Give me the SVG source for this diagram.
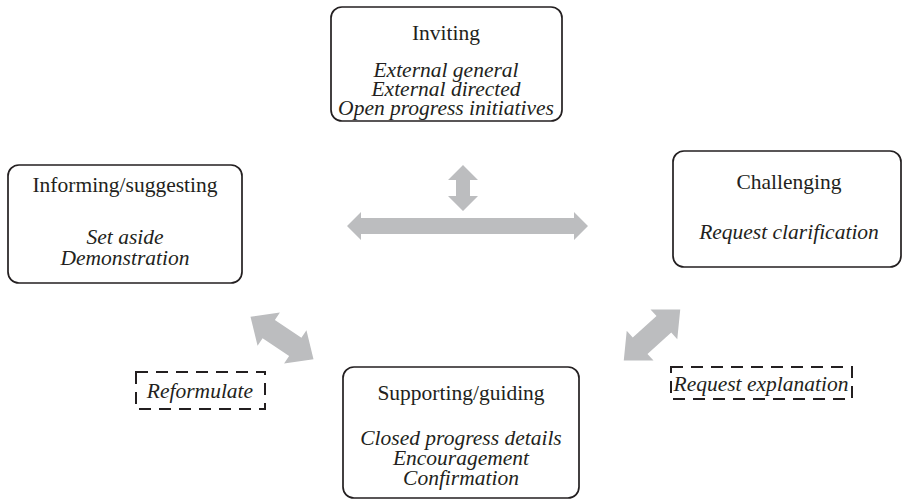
<svg xmlns="http://www.w3.org/2000/svg" width="904" height="499" viewBox="0 0 904 499">
<style>
.box{fill:#fff;stroke:#231f20;stroke-width:1.7}
.dash{fill:none;stroke:#231f20;stroke-width:2;stroke-dasharray:12 8}
.t{font-family:"Liberation Serif","Times New Roman",serif;font-size:21.5px;fill:#231f20;text-anchor:middle}
.i{font-style:italic}
.arr{fill:#bcbdbf}
</style>
<defs>
<polygon id="dbl" points="-38,0 -16,-20 -16,-11 16,-11 16,-20 38,0 16,20 16,11 -16,11 -16,20"/>
</defs>
<g id="connectors" class="arr">
<polygon points="463,165 478,180 470,180 470,196 478,196 463,211 448,196 456,196 456,180 448,180"/>
<polygon points="347,226 361,212 361,218 574,218 574,212 588,226 574,240 574,234 361,234 361,240"/>
<use href="#dbl" transform="translate(282,338) rotate(34)"/>
<use href="#dbl" transform="translate(652,335) rotate(-42)"/>
</g>
<g id="inviting">
<rect class="box" x="331" y="7" width="231" height="114" rx="11"/>
<text class="t" x="446" y="40">Inviting</text>
<text class="t i" x="446" y="77">External general</text>
<text class="t i" x="446" y="96">External directed</text>
<text class="t i" x="446" y="115">Open progress initiatives</text>
</g>
<g id="informing">
<rect class="box" x="8" y="165" width="234" height="118" rx="11"/>
<text class="t" x="125" y="192">Informing/suggesting</text>
<text class="t i" x="125" y="244">Set aside</text>
<text class="t i" x="125" y="265">Demonstration</text>
</g>
<g id="challenging">
<rect class="box" x="673" y="151" width="228" height="116" rx="11"/>
<text class="t" x="789" y="189">Challenging</text>
<text class="t i" x="789" y="239">Request clarification</text>
</g>
<g id="supporting">
<rect class="box" x="343" y="367" width="236" height="131" rx="11"/>
<text class="t" x="461" y="400">Supporting/guiding</text>
<text class="t i" x="461" y="445">Closed progress details</text>
<text class="t i" x="461" y="465">Encouragement</text>
<text class="t i" x="461" y="485">Confirmation</text>
</g>
<g id="reformulate">
<rect class="dash" x="136" y="372" width="129" height="37"/>
<text class="t i" x="200" y="398">Reformulate</text>
</g>
<g id="request-explanation">
<rect class="dash" x="671" y="367" width="181" height="32"/>
<text class="t i" x="761" y="391">Request explanation</text>
</g>
</svg>
